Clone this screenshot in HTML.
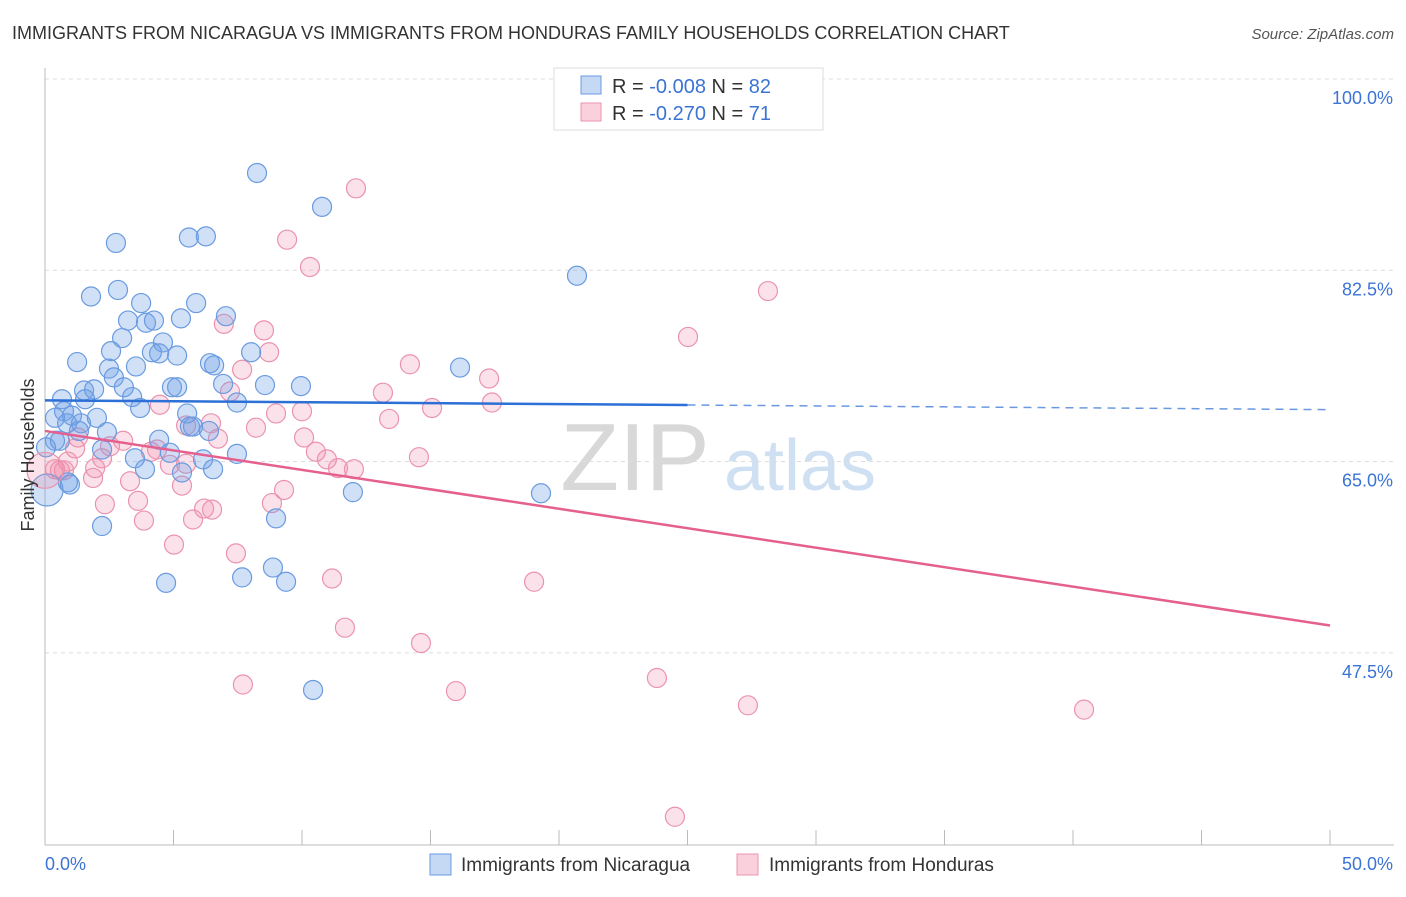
<!DOCTYPE html>
<html><head><meta charset="utf-8"><style>
body{margin:0;background:#fff;font-family:"Liberation Sans",sans-serif}
svg text{font-family:"Liberation Sans",sans-serif}
</style></head><body>
<svg id="chart" width="1406" height="892" viewBox="0 0 1406 892">
<text x="12" y="39" font-size="18" fill="#333">IMMIGRANTS FROM NICARAGUA VS IMMIGRANTS FROM HONDURAS FAMILY HOUSEHOLDS CORRELATION CHART</text>
<text x="1394" y="39" font-size="15" fill="#555" text-anchor="end" font-style="italic">Source: ZipAtlas.com</text>
<g>
<text x="635" y="490" font-size="96" fill="#d8d8d8" text-anchor="middle" font-family="Liberation Serif">ZIP</text>
<text x="800" y="490" font-size="72" fill="#cfe0f3" text-anchor="middle">atlas</text>
</g>
<g id="grid"></g>
<g id="axes"></g>
<g id="pts"></g>
<g id="trends"></g>
<text transform="translate(34,455) rotate(-90)" font-size="18" fill="#333" text-anchor="middle">Family Households</text>
<g>
<rect x="554" y="68" width="269" height="62" fill="#fff" stroke="#ddd"/>
<rect x="581" y="76" width="20" height="18" fill="#c5d9f5" stroke="#6a9be0"/>
<rect x="581" y="103" width="20" height="18" fill="#fbd0dd" stroke="#eb93ae"/>
<text x="612" y="93" font-size="20" fill="#333">R = <tspan fill="#3b74d4">-0.008</tspan>   N = <tspan fill="#3b74d4">82</tspan></text>
<text x="612" y="120" font-size="20" fill="#333">R =  <tspan fill="#3b74d4">-0.270</tspan>   N =  <tspan fill="#3b74d4">71</tspan></text>
</g>
<g>
<rect x="430" y="854" width="21" height="21" fill="#c5d9f5" stroke="#6a9be0"/>
<text x="461" y="871" font-size="19" fill="#333">Immigrants from Nicaragua</text>
<rect x="737" y="854" width="21" height="21" fill="#fbd0dd" stroke="#eb93ae"/>
<text x="769" y="871" font-size="19" fill="#333">Immigrants from Honduras</text>
</g>
</svg>
<script>
const yTicks=[100,82.5,65,47.5];
const yTickLabels=["100.0%","82.5%","65.0%","47.5%"];
const xTickLabels=["0.0%","50.0%"];
const blueX=[8.25,10.78,2.76,5.6,6.26,20.7,1.79,2.84,3.74,5.88,7.04,3.23,3.93,5.29,4.24,3.0,4.59,2.57,4.16,4.44,5.14,8.02,1.25,6.42,6.58,16.15,2.49,3.54,2.68,9.96,8.56,6.93,4.94,5.14,1.52,1.91,3.07,0.66,3.39,1.56,7.47,0.74,3.7,1.05,2.02,5.53,1.4,0.39,0.86,2.41,1.32,5.64,6.38,4.44,5.76,0.39,0.58,0.04,2.22,3.5,4.86,6.15,7.47,3.89,5.33,6.54,11.98,19.3,0.97,0.89,2.22,8.99,4.71,7.67,8.87,9.38,10.43];
const blueY=[91.4,88.3,85.0,85.5,85.6,82.0,80.1,80.7,79.5,79.5,78.3,77.9,77.7,78.1,77.9,76.3,75.9,75.1,75.0,74.9,74.7,75.0,74.1,74.0,73.8,73.6,73.5,73.7,72.7,71.9,72.0,72.1,71.8,71.8,71.5,71.6,71.8,70.7,70.9,70.7,70.4,69.6,69.9,69.2,69.0,69.4,68.5,69.0,68.5,67.7,67.8,68.2,67.8,67.0,68.2,66.9,66.9,66.3,66.1,65.3,65.8,65.2,65.7,64.3,64.0,64.3,62.2,62.1,62.9,63.1,59.1,59.8,53.9,54.4,55.3,54.0,44.1];
const pinkX=[12.1,9.42,10.31,28.13,25.02,6.96,8.52,8.72,14.2,7.67,17.28,13.15,15.06,17.39,7.2,10.0,8.99,4.47,13.39,8.21,6.46,6.73,10.08,1.28,3.04,2.53,5.49,4.12,4.36,10.54,10.97,11.4,12.02,14.55,1.17,2.22,0.89,1.95,0.58,0.39,0.74,4.86,5.49,1.87,3.31,5.33,3.62,9.3,8.83,2.33,6.19,6.5,5.76,3.85,5.02,7.43,11.17,19.03,11.67,14.63,7.7,15.99,23.81,27.35,40.43,24.51];
const pinkY=[90.0,85.3,82.8,80.6,76.4,77.6,77.0,75.0,73.9,73.4,72.6,71.3,69.9,70.4,71.4,69.6,69.4,70.2,68.9,68.1,68.5,67.1,67.2,67.2,66.9,66.4,68.3,65.9,66.1,65.9,65.2,64.4,64.3,65.4,66.2,65.3,65.0,64.4,64.2,64.3,64.2,64.7,64.8,63.5,63.2,62.8,61.4,62.4,61.2,61.1,60.7,60.6,59.7,59.6,57.4,56.6,54.3,54.0,49.8,48.4,44.6,44.0,45.2,42.7,42.3,32.5];
const bigX=[0.08,0];
const bigY=[62.4,64.2];
const trendBlue=[70.6,69.75];
const trendPink=[67.8,50.0];
const blueSolidEnd=25;
const NS='http://www.w3.org/2000/svg';
const X=v=>45+v/50*1285;
const Y=v=>79+(100-v)*10.93;
function mk(tag,attrs,parent){const e=document.createElementNS(NS,tag);for(const k in attrs)e.setAttribute(k,attrs[k]);parent.appendChild(e);return e;}
const grid=document.getElementById('grid'),axes=document.getElementById('axes'),pts=document.getElementById('pts'),tr=document.getElementById('trends');
yTicks.forEach((t,i)=>{
 const l=mk('line',{x1:45,x2:1394,y1:Y(t),y2:Y(t),stroke:'#ddd','stroke-dasharray':'4,4'},grid);
 
 
 const tx=mk('text',{x:1393,y:Y(t)+25,'font-size':18,fill:'#3b74d4','text-anchor':'end'},axes);
 tx.textContent=yTickLabels[i];
 
 
});
mk('line',{x1:45,x2:45,y1:68,y2:845,stroke:'#bbb'},axes);
mk('line',{x1:45,x2:1394,y1:845,y2:845,stroke:'#bbb'},axes);
for(let i=0;i<=10;i++){const tk=mk('line',{x1:X(i*5),x2:X(i*5),y1:830,y2:845,stroke:'#bbb'},axes);
 
 }
[[0,'start',45],[50,'end',1393]].forEach((a,i)=>{const t=mk('text',{x:a[2],y:870,'font-size':18,fill:'#3b74d4','text-anchor':a[1]},axes);t.textContent=xTickLabels[i];
 
 });
function dot(x,y,r,blue){const c=mk('circle',{cx:X(x),cy:Y(y),r:r,fill:blue?'rgba(110,160,230,0.32)':'rgba(240,140,170,0.25)',stroke:blue?'#6a9be0':'#eb93ae','stroke-width':1.2},pts);
 
 }
pinkX.forEach((x,i)=>dot(x,pinkY[i],9.5,false));
blueX.forEach((x,i)=>dot(x,blueY[i],9.5,true));
dot(bigX[0],bigY[0],16,true);dot(bigX[1],bigY[1],18,false);
const bAt=v=>trendBlue[0]+(trendBlue[1]-trendBlue[0])*v/50;
let l1=mk('line',{x1:X(0),y1:Y(bAt(0)),x2:X(blueSolidEnd),y2:Y(bAt(blueSolidEnd)),stroke:'#2c6fd6','stroke-width':2.5},tr);


let l2=mk('line',{x1:X(blueSolidEnd),y1:Y(bAt(blueSolidEnd)),x2:X(50),y2:Y(bAt(50)),stroke:'#2c6fd6','stroke-width':1.5,'stroke-dasharray':'8,6',opacity:0.7},tr);


let l3=mk('line',{x1:X(0),y1:Y(trendPink[0]),x2:X(50),y2:Y(trendPink[1]),stroke:'#e5608e','stroke-width':2.5},tr);


</script>
</body></html>
